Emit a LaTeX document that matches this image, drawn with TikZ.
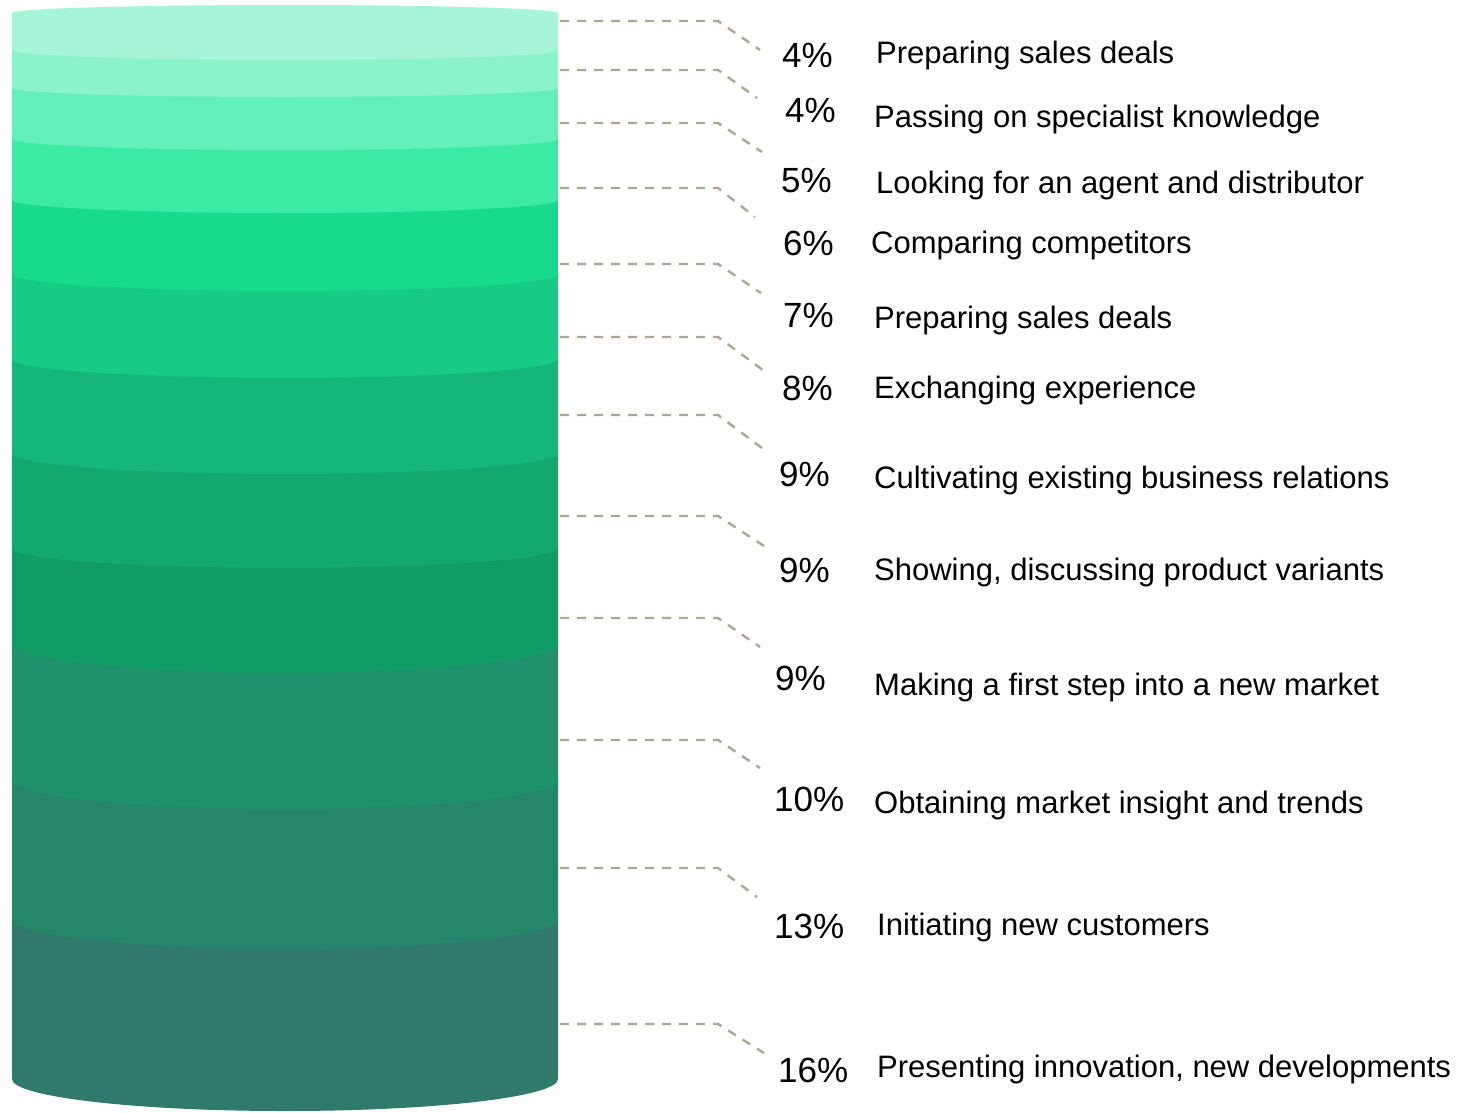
\documentclass[tikz,border=0pt]{standalone}
\usepackage{fontspec}
\setmainfont{Liberation Sans}
\usepackage{tikz}
\usetikzlibrary{calc}
\definecolor{c1}{HTML}{A7F5D8}
\definecolor{c2}{HTML}{8BF3CA}
\definecolor{c3}{HTML}{63EFB9}
\definecolor{c4}{HTML}{3BEAA3}
\definecolor{c5}{HTML}{18DA8B}
\definecolor{c6}{HTML}{16CB83}
\definecolor{c7}{HTML}{14B679}
\definecolor{c8}{HTML}{12A96F}
\definecolor{c9}{HTML}{119B65}
\definecolor{c10}{HTML}{1E906B}
\definecolor{c11}{HTML}{26866A}
\definecolor{c12}{HTML}{31796A}
\definecolor{leadgray}{HTML}{ADA695}
\tikzset{pct/.style={anchor=base west, inner sep=0pt, font=\fontsize{35}{35}\selectfont}}
\tikzset{lbl/.style={anchor=base west, inner sep=0pt, font=\fontsize{31}{31}\selectfont}}
\tikzset{leader/.style={draw=leadgray, line width=2.4pt, dash pattern=on 9pt off 8pt}}

\begin{document}
\begin{tikzpicture}[x=1pt, y=-1pt]
        \useasboundingbox (0,0) rectangle (1461,1112);
        \fill[white] (0,0) rectangle (1461,1112);
        % bands, bottom one first
        \foreach \top/\bot/\ry/\col in {917/1079/32/c12, 778/919/30/c11, 641/780/29/c10,
            546/643/30/c9, 451/548/20/c8, 357/453/21/c7, 272/359/19/c6, 198/274/17/c5,
            137/200/13/c4, 86/139/11/c3, 48/88/9/c2}
          \fill[\col] (12,\top) -- (12,\bot)
            arc[start angle=180, end angle=360, x radius=273pt, y radius=\ry pt]
            -- (558,\top) -- cycle;
        \fill[c1] (12,13) arc[start angle=180, end angle=0, x radius=273pt, y radius=8pt]
          -- (558,50) arc[start angle=360, end angle=180, x radius=273pt, y radius=10pt]
          -- cycle;
        % leaders
        \foreach \i/\y/\ex/\ey in {1/21/760/50, 2/70/757/98, 3/123/762/152, 4/188/755/217,
            5/264/761/293, 6/337/767/373, 7/415/766/451, 8/516/764/546,
            9/618/760/647, 10/740/760/768, 11/868/757/897, 12/1024/764/1053} {
          \coordinate (s\i) at (560,\y);
          \coordinate (e\i) at (\ex,\ey);
          \draw[leader] (s\i) -- ++(158,0) -- (e\i);
        }
        % percentages
        \node[pct] (p1) at (782,67) {4\%};
        \node[pct] (p2) at (785,122) {4\%};
        \node[pct] (p3) at (781,192) {5\%};
        \node[pct] (p4) at (783,255) {6\%};
        \node[pct] (p5) at (783,327) {7\%};
        \node[pct] (p6) at (782,400) {8\%};
        \node[pct] (p7) at (779,486) {9\%};
        \node[pct] (p8) at (779,582) {9\%};
        \node[pct] (p9) at (775,690) {9\%};
        \node[pct] (p10) at (774,811) {10\%};
        \node[pct] (p11) at (774,938) {13\%};
        \node[pct] (p12) at (778,1082) {16\%};
        % labels
        \node[lbl] (t1) at (876,63) {Preparing sales deals};
        \node[lbl] (t2) at (874,127) {Passing on specialist knowledge};
        \node[lbl] (t3) at (876,193) {Looking for an agent and distributor};
        \node[lbl] (t4) at (871,253) {Comparing competitors};
        \node[lbl] (t5) at (874,328) {Preparing sales deals};
        \node[lbl] (t6) at (874,398) {Exchanging experience};
        \node[lbl] (t7) at (874,488) {Cultivating existing business relations};
        \node[lbl] (t8) at (874,580) {Showing, discussing product variants};
        \node[lbl] (t9) at (874,695) {Making a first step into a new market};
        \node[lbl] (t10) at (874,813) {Obtaining market insight and trends};
        \node[lbl] (t11) at (877,935) {Initiating new customers};
        \node[lbl] (t12) at (877,1077) {Presenting innovation, new developments};
      \end{tikzpicture}
\end{document}
